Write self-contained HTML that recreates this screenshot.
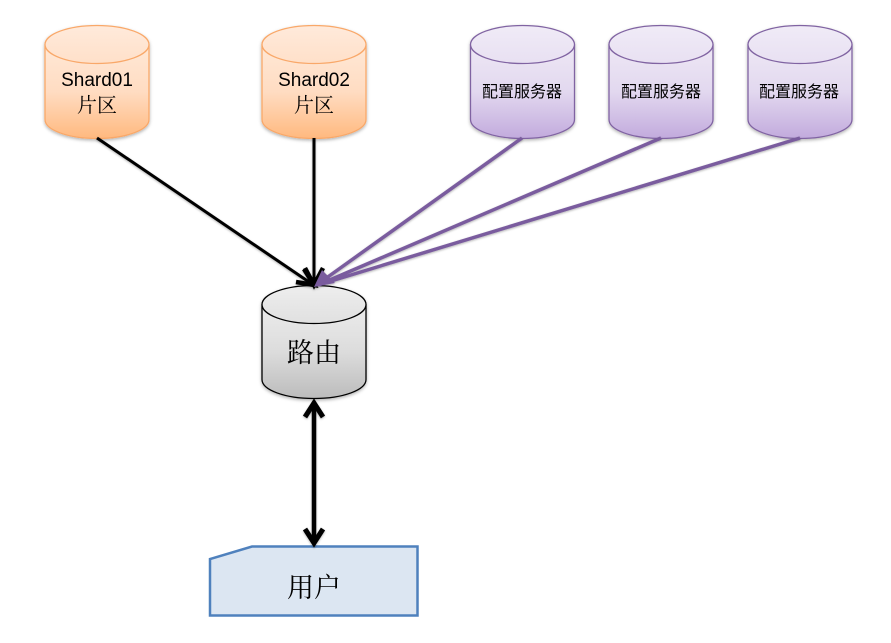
<!DOCTYPE html>
<html>
<head>
<meta charset="utf-8">
<style>
html,body{margin:0;padding:0;background:#fff;width:891px;height:643px;overflow:hidden}
svg{display:block}
text{font-family:"Liberation Sans","Noto Sans CJK SC",sans-serif;fill:#000;text-anchor:middle}
.c{font-family:"Noto Serif CJK SC","Liberation Serif",serif}
</style>
</head>
<body>
<svg width="891" height="643" viewBox="0 0 891 643" xmlns="http://www.w3.org/2000/svg">
<defs>
<linearGradient id="o" x1="0" y1="0" x2="0" y2="1"><stop offset="0" stop-color="#ffe8d6"/><stop offset="0.5" stop-color="#ffdcc2"/><stop offset="1" stop-color="#ffb97f"/></linearGradient>
<linearGradient id="oe" x1="0" y1="0" x2="0" y2="1"><stop offset="0" stop-color="#ffeadb"/><stop offset="1" stop-color="#ffe0c9"/></linearGradient>
<linearGradient id="p" x1="0" y1="0" x2="0" y2="1"><stop offset="0" stop-color="#eee8f5"/><stop offset="0.5" stop-color="#e2d8ef"/><stop offset="1" stop-color="#c2aadd"/></linearGradient>
<linearGradient id="pe" x1="0" y1="0" x2="0" y2="1"><stop offset="0" stop-color="#f0ebf7"/><stop offset="1" stop-color="#e8e0f2"/></linearGradient>
<linearGradient id="g" x1="0" y1="0" x2="0" y2="1"><stop offset="0" stop-color="#ececec"/><stop offset="0.5" stop-color="#dcdcdc"/><stop offset="1" stop-color="#bcbcbc"/></linearGradient>
<linearGradient id="ge" x1="0" y1="0" x2="0" y2="1"><stop offset="0" stop-color="#eeeeee"/><stop offset="1" stop-color="#e0e0e0"/></linearGradient>
<filter id="s" x="-15%" y="-15%" width="130%" height="130%"><feDropShadow dx="0" dy="1.5" stdDeviation="1.5" flood-color="#000" flood-opacity="0.3"/></filter>
<filter id="l" x="-20%" y="-20%" width="140%" height="140%"><feDropShadow dx="0" dy="1" stdDeviation="1" flood-color="#000" flood-opacity="0.3"/></filter>
<path id="b" d="M0.5 19.5V94.5C0.5 105 23.5 113.5 52.5 113.5S104.5 105 104.5 94.5V19.5"/>
<ellipse id="e" cx="52.5" cy="19.5" rx="52" ry="19"/>
</defs>

<g stroke="#f9a869" stroke-width="1.3">
<g filter="url(#s)" transform="translate(44.5 25)"><use href="#b" fill="url(#o)"/><use href="#e" fill="url(#oe)"/></g>
<g filter="url(#s)" transform="translate(261.5 25)"><use href="#b" fill="url(#o)"/><use href="#e" fill="url(#oe)"/></g>
</g>
<g stroke="#8064a2" stroke-width="1.3">
<g filter="url(#s)" transform="translate(470 25)"><use href="#b" fill="url(#p)"/><use href="#e" fill="url(#pe)"/></g>
<g filter="url(#s)" transform="translate(608.500 25)"><use href="#b" fill="url(#p)"/><use href="#e" fill="url(#pe)"/></g>
<g filter="url(#s)" transform="translate(747.500 25)"><use href="#b" fill="url(#p)"/><use href="#e" fill="url(#pe)"/></g>
</g>
<g stroke="#000" stroke-width="1.3">
<g filter="url(#s)" transform="translate(261.5 285)"><use href="#b" fill="url(#g)"/><use href="#e" fill="url(#ge)"/></g>
</g>

<path d="M210 615.5V559L252 546.5H417.5V615.5Z" fill="#dce6f2" stroke="#4f81bd" stroke-width="2.5"/>

<g filter="url(#l)">
<g stroke="#000" stroke-width="3" fill="none">
<line x1="97" y1="138" x2="312" y2="284"/>
<line x1="314" y1="138" x2="314" y2="284"/>
<polyline points="296,282 314,285 304,269" stroke-width="4.5"/>
<polyline points="305,268 314,285 323,268" stroke-width="4.5"/>
</g>
<g stroke="#7a5c9e" stroke-width="3.5" fill="none">
<line x1="522" y1="138" x2="318" y2="284"/>
<line x1="661" y1="138" x2="318" y2="285"/>
<line x1="800" y1="138" x2="318" y2="285"/>
</g>
<path d="M314 287L322 270L335 283Z" fill="#7a5c9e"/>
<g stroke="#000" stroke-width="4.5" fill="none">
<line x1="314" y1="403" x2="314" y2="543"/>
<polyline points="305,417 314,403 323,417" stroke-width="5"/>
<polyline points="305,529 314,543 323,529" stroke-width="5"/>
</g>
</g>

<text x="97" y="86" font-size="19">Shard01</text>
<text class="c" x="97" y="112" font-size="20">片区</text>
<text x="314" y="86" font-size="19">Shard02</text>
<text class="c" x="314" y="112" font-size="20">片区</text>
<text x="522" y="97" font-size="16">配置服务器</text>
<text x="661" y="97" font-size="16">配置服务器</text>
<text x="799" y="97" font-size="16">配置服务器</text>
<text class="c" x="314" y="362" font-size="27">路由</text>
<text class="c" x="314" y="597" font-size="27">用户</text>
</svg>
</body>
</html>
